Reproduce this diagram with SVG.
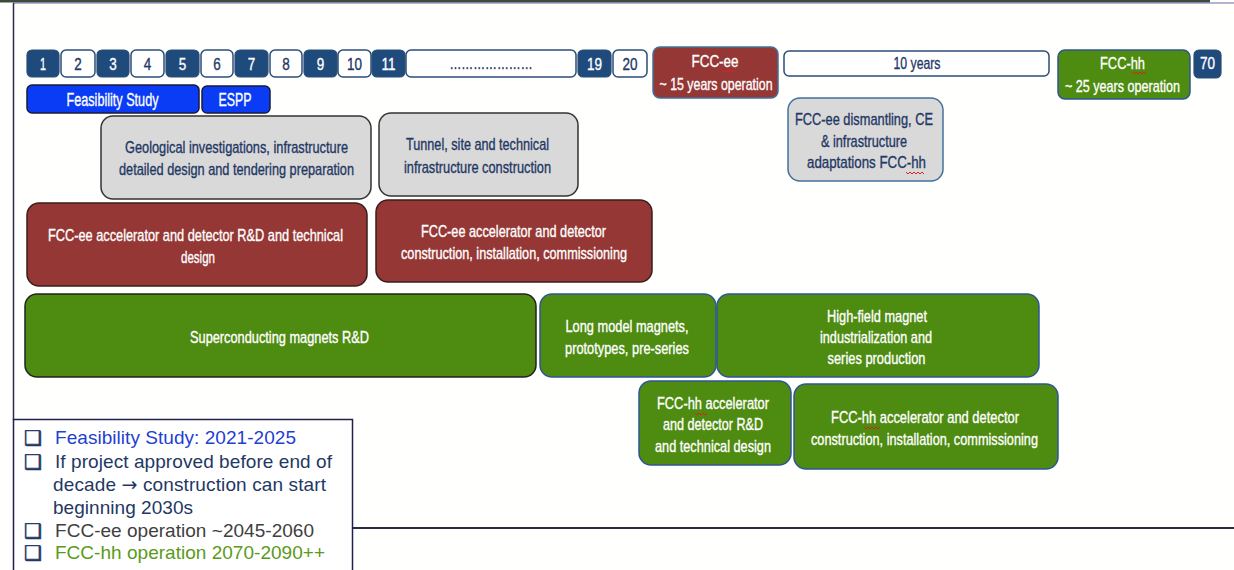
<svg xmlns="http://www.w3.org/2000/svg" width="1234" height="570" viewBox="0 0 1234 570">
<defs>
<style>
.t{font-family:"Liberation Sans",Arial,sans-serif;font-size:17px;text-anchor:middle;stroke-width:0.35;}
.w{fill:#ffffff;stroke:#ffffff;}
.b{fill:#1f3864;stroke:#1f3864;}
.yd{fill:#1f4a7c;stroke:#2a4e78;stroke-width:1.2;}
.yw{fill:#ffffff;stroke:#2a4e78;stroke-width:1.5;}
.red{fill:#953735;stroke:#3a1e1e;stroke-width:1.5;}
.redb{fill:#953735;stroke:#41719c;stroke-width:1.5;}
.grn{fill:#4e8b11;stroke:#222;stroke-width:1.5;}
.grnb{fill:#4e8b11;stroke:#2f5597;stroke-width:1.5;}
.gry{fill:#d9d9d9;stroke:#333;stroke-width:1.5;}
.gryb{fill:#d9d9d9;stroke:#41719c;stroke-width:1.5;}
.fs{fill:#0a3cf5;stroke:#1a1a3a;stroke-width:1.5;}
.sq{fill:none;stroke:#e02020;stroke-width:1;}
.lg{font-family:"Liberation Sans",Arial,sans-serif;font-size:19px;}
.cb{font-family:"DejaVu Sans",sans-serif;font-size:20px;fill:#1f3864;stroke:#1f3864;stroke-width:0.6;}
</style>
</defs>
<rect x="0" y="0" width="1234" height="570" fill="#fffffd"/>
<g id="frame">
<rect x="0" y="0" width="1210" height="2.5" fill="#3c4a3a"/>
<line x1="13" y1="3" x2="1234" y2="3" stroke="#6a6aa8" stroke-width="1.2"/>
<line x1="13.5" y1="3" x2="13.5" y2="420" stroke="#2a2a55" stroke-width="1.5"/>
<line x1="352" y1="528" x2="1234" y2="528" stroke="#2a2a4a" stroke-width="2"/>
</g>
<g id="years">
<rect class="yd" x="27" y="50" width="32" height="27" rx="5"/><text class="t w" x="43" y="69.5" textLength="6" lengthAdjust="spacingAndGlyphs">1</text>
<rect class="yw" x="61" y="50" width="34" height="27" rx="5"/><text class="t b" x="78" y="69.5" textLength="7.5" lengthAdjust="spacingAndGlyphs">2</text>
<rect class="yd" x="97" y="50" width="32" height="27" rx="5"/><text class="t w" x="113" y="69.5" textLength="7.5" lengthAdjust="spacingAndGlyphs">3</text>
<rect class="yw" x="131" y="50" width="33" height="27" rx="5"/><text class="t b" x="147.5" y="69.5" textLength="7.5" lengthAdjust="spacingAndGlyphs">4</text>
<rect class="yd" x="166" y="50" width="33" height="27" rx="5"/><text class="t w" x="182.5" y="69.5" textLength="7.5" lengthAdjust="spacingAndGlyphs">5</text>
<rect class="yw" x="201" y="50" width="32" height="27" rx="5"/><text class="t b" x="217" y="69.5" textLength="7.5" lengthAdjust="spacingAndGlyphs">6</text>
<rect class="yd" x="235" y="50" width="33" height="27" rx="5"/><text class="t w" x="251.5" y="69.5" textLength="7.5" lengthAdjust="spacingAndGlyphs">7</text>
<rect class="yw" x="270" y="50" width="32" height="27" rx="5"/><text class="t b" x="286" y="69.5" textLength="7.5" lengthAdjust="spacingAndGlyphs">8</text>
<rect class="yd" x="304" y="50" width="33" height="27" rx="5"/><text class="t w" x="320.5" y="69.5" textLength="7.5" lengthAdjust="spacingAndGlyphs">9</text>
<rect class="yw" x="338" y="50" width="33" height="27" rx="5"/><text class="t b" x="354.5" y="69.5" textLength="15" lengthAdjust="spacingAndGlyphs">10</text>
<rect class="yd" x="372" y="50" width="33" height="27" rx="5"/><text class="t w" x="388.5" y="69.5" textLength="14" lengthAdjust="spacingAndGlyphs">11</text>
<rect class="yw" x="406" y="50" width="170" height="27" rx="5"/><text class="t b" x="491" y="69" textLength="83" lengthAdjust="spacingAndGlyphs">…………………</text>
<rect class="yd" x="578" y="50" width="33" height="27" rx="5"/><text class="t w" x="594.5" y="69.5" textLength="15" lengthAdjust="spacingAndGlyphs">19</text>
<rect class="yw" x="613" y="50" width="34" height="27" rx="5"/><text class="t b" x="630" y="69.5" textLength="15" lengthAdjust="spacingAndGlyphs">20</text>
<rect class="yd" x="1194" y="50" width="27" height="28" rx="5"/><text class="t w" x="1207.5" y="69" textLength="15" lengthAdjust="spacingAndGlyphs">70</text>
</g>
<g id="fccee-op">
<rect class="redb" x="653" y="47" width="125" height="51" rx="7"/>
<text class="t w" x="715" y="67" textLength="47" lengthAdjust="spacingAndGlyphs">FCC-ee</text>
<text class="t w" x="716" y="89.5" textLength="113" lengthAdjust="spacingAndGlyphs">~ 15 years operation</text>
<path class="sq" d="M722 70 l2 2 l2 -2 l2 2 l2 -2 l2 2 l2 -2"/>
</g>
<g id="ten-years">
<rect class="yw" x="784" y="51" width="265" height="25" rx="5"/>
<text class="t b" x="917" y="69" textLength="47" lengthAdjust="spacingAndGlyphs">10 years</text>
</g>
<g id="fcchh-op">
<rect class="grnb" x="1058" y="50" width="132" height="49" rx="7"/>
<text class="t w" x="1122.5" y="69" textLength="45" lengthAdjust="spacingAndGlyphs">FCC-hh</text>
<text class="t w" x="1122.5" y="91.5" textLength="115" lengthAdjust="spacingAndGlyphs">~ 25 years operation</text>
<path class="sq" d="M1132 72 l2 2 l2 -2 l2 2 l2 -2 l2 2 l2 -2 l2 2"/>
</g>
<g id="feasibility">
<rect class="fs" x="27" y="85" width="172" height="28" rx="5"/>
<text class="t w" x="112.5" y="105.5" style="font-size:18px" textLength="92" lengthAdjust="spacingAndGlyphs">Feasibility Study</text>
</g>
<g id="espp">
<rect class="fs" x="202" y="86" width="68" height="27" rx="5"/>
<text class="t w" x="235" y="105.5" style="font-size:18px" textLength="33" lengthAdjust="spacingAndGlyphs">ESPP</text>
</g>
<g id="geological">
<rect class="gry" x="101" y="116" width="270" height="83" rx="12"/>
<text class="t b" x="236.5" y="153" textLength="223" lengthAdjust="spacingAndGlyphs">Geological investigations, infrastructure</text>
<text class="t b" x="236.5" y="175" textLength="235" lengthAdjust="spacingAndGlyphs">detailed design and tendering preparation</text>
</g>
<g id="tunnel">
<rect class="gry" x="379" y="113" width="199" height="83" rx="12"/>
<text class="t b" x="477.5" y="149.5" textLength="143" lengthAdjust="spacingAndGlyphs">Tunnel, site and technical</text>
<text class="t b" x="477.5" y="172.5" textLength="147" lengthAdjust="spacingAndGlyphs">infrastructure construction</text>
</g>
<g id="dismantling">
<rect class="gryb" x="788" y="98" width="155" height="83" rx="12"/>
<text class="t b" x="864" y="125" textLength="138" lengthAdjust="spacingAndGlyphs">FCC-ee dismantling, CE</text>
<text class="t b" x="864" y="147" textLength="86" lengthAdjust="spacingAndGlyphs">&amp; infrastructure</text>
<text class="t b" x="866.5" y="168" textLength="119" lengthAdjust="spacingAndGlyphs">adaptations FCC-hh</text>
<path class="sq" d="M906 172 l2 2 l2 -2 l2 2 l2 -2 l2 2 l2 -2 l2 2 l2 -2 l2 2"/>
</g>
<g id="fccee-rd">
<rect class="red" x="27" y="203" width="340" height="83" rx="12"/>
<text class="t w" x="195.5" y="241" textLength="295" lengthAdjust="spacingAndGlyphs">FCC-ee accelerator and detector R&amp;D and technical</text>
<text class="t w" x="198" y="263" textLength="34" lengthAdjust="spacingAndGlyphs">design</text>
</g>
<g id="fccee-constr">
<rect class="red" x="376" y="200" width="276" height="82" rx="12"/>
<text class="t w" x="513.5" y="237" textLength="185" lengthAdjust="spacingAndGlyphs">FCC-ee accelerator and detector</text>
<text class="t w" x="514" y="259" textLength="226" lengthAdjust="spacingAndGlyphs">construction, installation, commissioning</text>
</g>
<g id="sc-magnets">
<rect class="grn" x="25" y="294" width="511" height="83" rx="12"/>
<text class="t w" x="279.5" y="343" textLength="179" lengthAdjust="spacingAndGlyphs">Superconducting magnets R&amp;D</text>
</g>
<g id="long-model">
<rect class="grnb" x="540" y="294" width="176" height="83" rx="12"/>
<text class="t w" x="627" y="332" textLength="123" lengthAdjust="spacingAndGlyphs">Long model magnets,</text>
<text class="t w" x="627" y="354" textLength="124" lengthAdjust="spacingAndGlyphs">prototypes, pre-series</text>
</g>
<g id="high-field">
<rect class="grnb" x="717" y="294" width="322" height="83" rx="12"/>
<text class="t w" x="877" y="322" textLength="100" lengthAdjust="spacingAndGlyphs">High-field magnet</text>
<text class="t w" x="876" y="343" textLength="112" lengthAdjust="spacingAndGlyphs">industrialization and</text>
<text class="t w" x="876.5" y="364" textLength="98" lengthAdjust="spacingAndGlyphs">series production</text>
</g>
<g id="fcchh-rd">
<rect class="grnb" x="639" y="381" width="152" height="84" rx="12"/>
<text class="t w" x="713" y="409" textLength="112" lengthAdjust="spacingAndGlyphs">FCC-hh accelerator</text>
<text class="t w" x="713" y="430" textLength="100" lengthAdjust="spacingAndGlyphs">and detector R&amp;D</text>
<text class="t w" x="713" y="452" textLength="116" lengthAdjust="spacingAndGlyphs">and technical design</text>
<path class="sq" d="M695 413 l2 2 l2 -2 l2 2 l2 -2 l2 2 l2 -2"/>
</g>
<g id="fcchh-constr">
<rect class="grnb" x="794" y="384" width="264" height="85" rx="12"/>
<text class="t w" x="925" y="423" textLength="188" lengthAdjust="spacingAndGlyphs">FCC-hh accelerator and detector</text>
<text class="t w" x="924.5" y="445" textLength="227" lengthAdjust="spacingAndGlyphs">construction, installation, commissioning</text>
<path class="sq" d="M864 427 l2 2 l2 -2 l2 2 l2 -2 l2 2 l2 -2 l2 2 l2 -2"/>
</g>
<g id="legend">
<rect x="13.5" y="419.5" width="339" height="160" fill="#ffffff" stroke="#1f2050" stroke-width="1.5"/>
<text class="cb" x="24" y="445">❑</text>
<text class="lg" x="55" y="444" fill="#1f3fd0" textLength="241" lengthAdjust="spacing">Feasibility Study: 2021-2025</text>
<text class="cb" x="24" y="469">❑</text>
<text class="lg" x="55" y="468" fill="#1f3864" textLength="277" lengthAdjust="spacing">If project approved before end of</text>
<text class="lg" x="53" y="491" fill="#1f3864" textLength="273" lengthAdjust="spacing">decade <tspan style="font-family:'DejaVu Sans',sans-serif">→</tspan> construction can start</text>
<text class="lg" x="53" y="514" fill="#1f3864" textLength="140" lengthAdjust="spacing">beginning 2030s</text>
<text class="cb" x="24" y="538">❑</text>
<text class="lg" x="55" y="537" fill="#404040" textLength="259" lengthAdjust="spacing">FCC-ee operation ~2045-2060</text>
<text class="cb" x="24" y="560">❑</text>
<text class="lg" x="55" y="559" fill="#5a9a1a" textLength="270" lengthAdjust="spacing">FCC-hh operation 2070-2090++</text>
</g>
</svg>
